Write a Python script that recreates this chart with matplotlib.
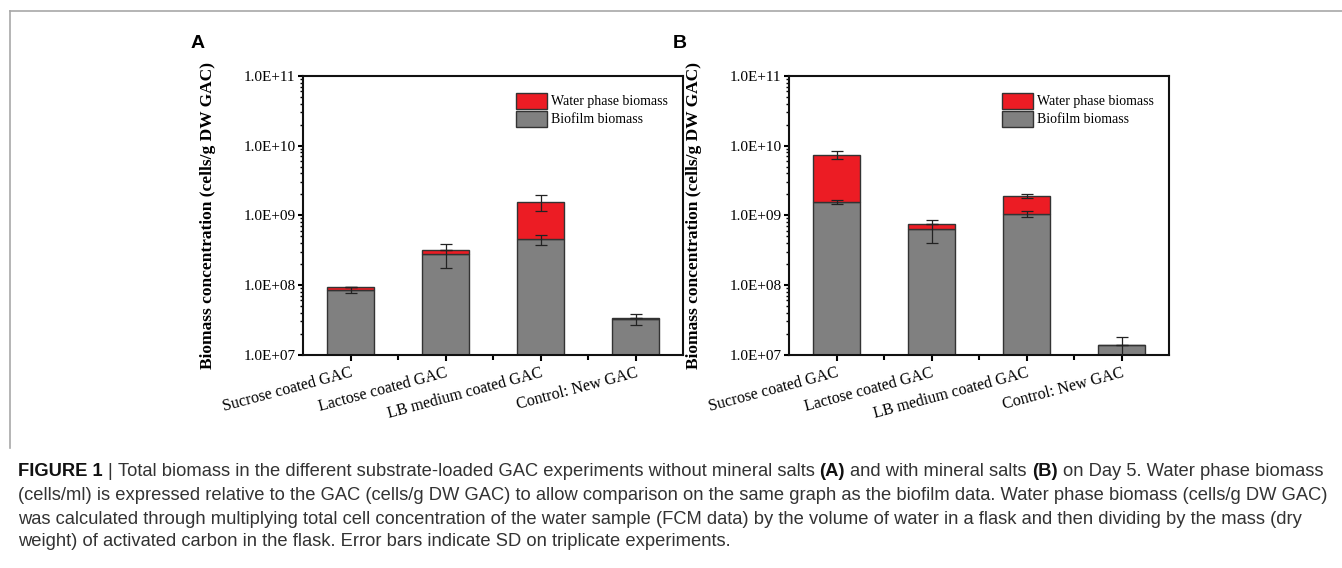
import matplotlib
matplotlib.use('Agg')
import numpy as np
import matplotlib.pyplot as plt
from matplotlib.ticker import FuncFormatter, LogLocator, FixedLocator, NullFormatter
from matplotlib.lines import Line2D
from matplotlib.patches import Patch
from matplotlib import font_manager as fm

# ── Data ──────────────────────────────────────────────────────────────────────
categories = ["Sucrose coated GAC", "Lactose coated GAC",
              "LB medium coated GAC", "Control: New GAC"]

# panel A: without mineral salts
bio_a      = [8.5e7, 2.8e8, 4.5e8, 3.25e7]
bio_sd_a   = [9.0e6, 1.07e8, 7.5e7, 6.0e6]
water_a    = [0.9e7, 0.4e8, 1.1e9, 0.1e7]
water_sd_a = [0.0, 0.0, 4.1e8, 0.0]

# panel B: with mineral salts
bio_b      = [1.55e9, 6.3e8, 1.05e9, 1.38e7]
bio_sd_b   = [1.05e8, 2.3e8, 1.0e8, 4.3e6]
water_b    = [5.85e9, 1.25e8, 8.5e8, 0.0]
water_sd_b = [9.2e8, 0.0, 1.1e8, 0.0]

RED, GREY, EDGE = '#ec1c24', '#808080', '#333333'
SERIF = ['Liberation Serif', 'DejaVu Serif']

W, H = 1342, 568
fig = plt.figure(figsize=(W/100, H/100), dpi=100)
fig.patch.set_facecolor('white')


def panel(left_px, bio, bio_sd, water, water_sd):
    ax = fig.add_axes([left_px/W, 1-354.5/H, 380/W, (354.5-76)/H])
    x = np.arange(1, len(categories)+1)
    bio = np.array(bio); water = np.array(water)
    ax.bar(x, bio, width=0.5, color=GREY, edgecolor=EDGE, lw=1, zorder=2)
    ax.bar(x, water, width=0.5, bottom=bio, color=RED, edgecolor=EDGE, lw=1, zorder=2)
    ax.errorbar(x, bio, yerr=bio_sd, fmt='none', ecolor='#222222', elinewidth=0.9,
                capsize=4.5, capthick=0.9, zorder=3)
    ax.errorbar(x, bio+water, yerr=water_sd, fmt='none', ecolor='#222222', elinewidth=0.9,
                capsize=4.5, capthick=0.9, zorder=3)
    ax.set_yscale('log')
    ax.set_ylim(1e7, 1e11)
    ax.set_xlim(0.5, 4.5)
    ax.yaxis.set_major_locator(LogLocator(base=10, numticks=10))
    ax.yaxis.set_minor_locator(LogLocator(base=10, subs=np.arange(2, 10), numticks=20))
    ax.yaxis.set_major_formatter(FuncFormatter(lambda v, p: f"{v:.1E}"))
    ax.yaxis.set_minor_formatter(NullFormatter())
    ax.set_xticks(x)
    ax.xaxis.set_minor_locator(FixedLocator([1.5, 2.5, 3.5]))
    ax.set_xticklabels(categories, rotation=15, ha='right', rotation_mode='anchor',
                       family=SERIF, fontsize=11.5)
    for lab in ax.get_yticklabels():
        lab.set_family(SERIF); lab.set_fontsize(11)
    ax.tick_params(axis='y', which='major', direction='out', length=3.5, width=1.5, pad=2)
    ax.tick_params(axis='x', which='major', direction='out', length=4.5, width=1.5, pad=3)
    ax.tick_params(axis='y', which='minor', direction='out', length=2, width=1)
    ax.tick_params(axis='x', which='minor', direction='out', length=3.5, width=1.5)
    for sp in ax.spines.values():
        sp.set_linewidth(1.5); sp.set_color('#111111')
    ax.set_ylabel("Biomass concentration (cells/g DW GAC)", family=SERIF,
                  fontsize=12.5, fontweight='bold')
    ax.yaxis.set_label_coords(-0.229, 0.5)
    handles = [Patch(facecolor=RED, edgecolor=EDGE, lw=1),
               Patch(facecolor=GREY, edgecolor=EDGE, lw=1)]
    ax.legend(handles, ["Water phase biomass", "Biofilm biomass"], loc='upper right',
              frameon=False, prop={'family': SERIF, 'size': 10},
              handlelength=2.2, handleheight=1.4, handletextpad=0.3, labelspacing=0.15,
              bbox_to_anchor=(0.985, 0.975), borderaxespad=0.3)
    return ax


axA = panel(303, bio_a, bio_sd_a, water_a, water_sd_a)
axB = panel(789, bio_b, bio_sd_b, water_b, water_sd_b)

fig.text(198/W, 1-43/H, "A", family=['Liberation Sans', 'DejaVu Sans'], fontsize=14,
         fontweight='bold', ha='center', va='center')
fig.text(680/W, 1-43/H, "B", family=['Liberation Sans', 'DejaVu Sans'], fontsize=14,
         fontweight='bold', ha='center', va='center')

# thin frame around the figure block
fig.add_artist(Line2D([10/W, 1], [1-11/H, 1-11/H], color='#a8a8a8', lw=1.2))
fig.add_artist(Line2D([10/W, 10/W], [1-11/H, 1-448/H], color='#a8a8a8', lw=1.2))

# ── Caption ───────────────────────────────────────────────────────────────────
cap_font = 'Liberation Sans'
try:
    fm.findfont('Liberation Sans Narrow', fallback_to_default=False)
    cap_font = 'Liberation Sans Narrow'
except Exception:
    pass

lines = [
    [("FIGURE 1", 'bold'), ("|", 'normal'),
     ("Total biomass in the different substrate-loaded GAC experiments without mineral salts", 'normal'),
     ("(A)", 'bold'), ("and with mineral salts", 'normal'), ("(B)", 'bold'),
     ("on Day 5. Water phase biomass", 'normal')],
    [("(cells/ml) is expressed relative to the GAC (cells/g DW GAC) to allow comparison on the same graph as the biofilm data. Water phase biomass (cells/g DW GAC)", 'normal')],
    [("was calculated through multiplying total cell concentration of the water sample (FCM data) by the volume of water in a flask and then dividing by the mass (dry", 'normal')],
    [("weight) of activated carbon in the flask. Error bars indicate SD on triplicate experiments.", 'normal')],
]
line_y = [472, 496, 519, 541]

renderer = fig.canvas.get_renderer()


def text_w(s, size, weight):
    t = fig.text(0, 0, s, fontsize=size, fontweight=weight, family=cap_font)
    w = t.get_window_extent(renderer).width
    t.remove()
    return w


def line_width(runs, size):
    sp = text_w("a a", size, 'normal') - text_w("aa", size, 'normal')
    return sum(text_w(s, size, wt) for s, wt in runs) + sp*(len(runs)-1), sp


# fit size so the first line spans the same width as in the reference
base = 11
w0, _ = line_width(lines[0], base)
size = base * (1323-18) / w0

for runs, yp in zip(lines, line_y):
    _, sp = line_width(runs, size)
    xp = 18
    for s, wt in runs:
        col = '#111111' if wt == 'bold' else '#333333'
        fig.text(xp/W, 1-yp/H, s, fontsize=size, fontweight=wt, family=cap_font,
                 color=col, ha='left', va='center')
        xp += text_w(s, size, wt) + sp

fig.savefig('out.png', dpi=100, facecolor='white')
